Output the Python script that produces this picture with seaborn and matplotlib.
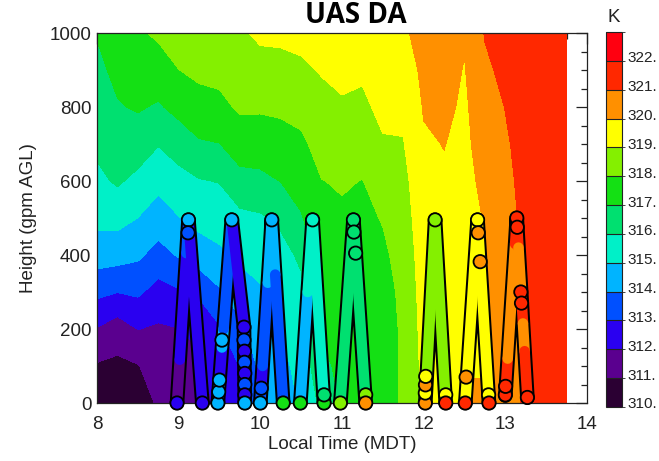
import numpy as np
import pandas as pd
import matplotlib
matplotlib.use("Agg")
import matplotlib.pyplot as plt
import seaborn as sns
from matplotlib.colors import ListedColormap, BoundaryNorm
from matplotlib.ticker import MultipleLocator
from matplotlib.cm import ScalarMappable

# ---------------- data ----------------
times = [8.0, 8.25, 8.5, 8.75, 9.0, 9.25, 9.5, 9.75, 10.0, 10.25, 10.5, 10.75,
         11.0, 11.25, 11.5, 11.75, 12.0, 12.25, 12.5, 12.75, 13.0, 13.25, 13.5, 13.75]
heights = [0, 100, 200, 300, 400, 500, 600, 700, 800, 900, 1000]

# potential temperature (K) per time column, heights 0..1000 m
theta_columns = [
    [310.0, 310.4, 311.44, 312.74, 313.96, 314.78, 315.29, 315.68, 315.97, 316.26, 316.56],
    [310.0, 310.3, 310.98, 312.52, 313.89, 314.83, 315.62, 316.02, 316.42, 316.74, 317.05],
    [310.1, 310.45, 311.52, 312.66, 313.67, 314.49, 315.26, 315.98, 316.6, 316.99, 317.38],
    [310.6, 311.0, 311.37, 312.13, 313.13, 314.03, 314.78, 315.55, 316.39, 317.06, 317.65],
    [310.8, 311.16, 311.48, 312.4, 313.59, 314.46, 315.16, 315.95, 316.79, 317.49, 317.9],
    [311.0, 311.3, 311.75, 312.67, 314.0, 314.81, 315.44, 316.38, 317.19, 317.68, 318.0],
    [311.8, 312.1, 312.38, 313.38, 314.32, 314.95, 315.54, 316.48, 317.27, 317.76, 318.15],
    [312.2, 312.52, 313.27, 314.0, 314.68, 315.26, 316.17, 317.0, 317.63, 318.0, 318.39],
    [313.4, 313.73, 314.07, 314.4, 314.85, 315.38, 316.27, 316.98, 317.62, 318.21, 318.65],
    [313.9, 314.2, 314.52, 314.86, 315.21, 315.67, 316.52, 317.1, 317.68, 318.2, 318.7],
    [314.62, 314.85, 315.08, 315.31, 315.65, 316.42, 316.88, 317.33, 317.79, 318.32, 318.8],
    [315.75, 316.25, 316.61, 316.83, 317.04, 317.26, 317.48, 317.83, 318.2, 318.57, 318.9],
    [316.6, 316.75, 316.9, 317.05, 317.2, 317.38, 317.58, 317.98, 318.38, 318.75, 319.1],
    [316.9, 316.95, 317.0, 317.05, 317.15, 317.3, 317.48, 317.85, 318.3, 318.65, 319.0],
    [317.2, 317.2, 317.2, 317.25, 317.35, 317.55, 317.9, 318.4, 318.75, 319.0, 319.25],
    [317.6, 317.6, 317.6, 317.65, 317.8, 318.0, 318.2, 318.45, 318.7, 319.0, 319.35],
    [318.7, 318.75, 318.85, 318.95, 319.05, 319.15, 319.25, 319.4, 319.56, 319.7, 319.85],
    [319.0, 319.05, 319.1, 319.15, 319.2, 319.3, 319.4, 319.52, 319.7, 319.85, 320.0],
    [319.6, 319.45, 319.3, 319.2, 319.2, 319.2, 319.25, 319.3, 319.35, 319.45, 319.6],
    [319.6, 319.45, 319.35, 319.35, 319.45, 319.55, 319.7, 319.9, 320.1, 320.35, 320.55],
    [320.2, 320.15, 320.1, 320.1, 320.15, 320.2, 320.3, 320.4, 320.52, 320.7, 320.85],
    [320.6, 320.6, 320.6, 320.6, 320.65, 320.7, 320.75, 320.8, 320.85, 320.9, 320.95],
    [320.85, 320.85, 320.85, 320.85, 320.9, 320.9, 320.95, 320.95, 321.0, 321.0, 321.05],
    [320.95, 320.95, 321.0, 321.0, 321.0, 321.0, 321.05, 321.05, 321.1, 321.1, 321.1],
]

# UAS flight tracks: vertices (time, height) and theta of the segment starting at each vertex
f1_time = [8.98, 9.013, 9.095, 9.12, 9.29]
f1_height = [0, 117, 405, 495, 0]
f1_theta = [311, 312, 313, 312]

f2_time = [9.48, 9.50, 9.53, 9.55, 9.65, 9.80, 9.81]
f2_height = [0, 60, 150, 200, 495, 205, 0]
f2_theta = [314, 312, 314, 313, 312, 313]

f3_time = [10.0, 10.017, 10.028, 10.092, 10.14, 10.182, 10.28]
f3_height = [0, 60, 100, 325, 495, 347, 0]
f3_theta = [313, 312, 313, 314, 314, 313]

f4_time = [10.49, 10.58, 10.64, 10.78]
f4_height = [0, 300, 495, 0]
f4_theta = [314, 315, 315]

f5_time = [10.98, 11.14, 11.29]
f5_height = [0, 495, 0]
f5_theta = [316, 316]

f6_time = [12.02, 12.14, 12.27]
f6_height = [0, 495, 0]
f6_theta = [318, 318]

f7_time = [12.51, 12.66, 12.80]
f7_height = [0, 495, 0]
f7_theta = [319, 319]

f8_time = [13.0, 13.029, 13.12, 13.14, 13.161, 13.194, 13.216, 13.236, 13.27]
f8_height = [20, 120, 430, 500, 420, 300, 215, 140, 15]
f8_theta = [321, 320, 321, 321, 320, 321, 320, 321]

# individual observation circles
mk_time = [8.98, 9.29, 9.12, 9.115,
           9.48, 9.49, 9.50, 9.53, 9.65, 9.80, 9.80, 9.805, 9.805, 9.81, 9.81, 9.81, 9.81,
           10.0, 10.012, 10.14, 10.28,
           10.49, 10.64, 10.78, 10.78,
           10.98, 11.14, 11.145, 11.167, 11.29, 11.29,
           12.02, 12.02, 12.022, 12.025, 12.14, 12.27, 12.27,
           12.51, 12.52, 12.66, 12.668, 12.692, 12.795, 12.80,
           13.0, 13.003, 13.14, 13.146, 13.19, 13.198, 13.27]
mk_height = [0, 0, 495, 460,
             0, 30, 62, 170, 495, 205, 170, 140, 110, 80, 50, 22, 0,
             0, 40, 495, 0,
             0, 495, 0, 22,
             0, 495, 462, 405, 22, 0,
             0, 27, 49, 72, 495, 22, 0,
             0, 70, 495, 460, 382, 22, 0,
             22, 45, 500, 475, 300, 270, 15]
mk_theta = [312, 312, 314, 313,
            314, 314, 314, 314, 314, 312, 313, 312, 313, 312, 313, 312, 314,
            314, 313, 314, 317,
            317, 315, 317, 316,
            318, 316, 316, 316, 318, 320,
            320, 319, 320, 319, 318, 319, 321,
            321, 320, 319, 320, 320, 319, 321,
            321, 321, 321, 321, 321, 321, 321]

level_values = list(range(310, 323))
level_colors = ['#2b0033', '#5a008f', '#2a00f0', '#0050ff', '#00b4ff', '#00f0c8',
                '#00e070', '#14e014', '#84f000', '#ffff00', '#ff9000', '#ff2800', '#ff0010']
level_labels = [f"{v}." for v in level_values]

# ---------------- style ----------------
sns.set_style("white")
plt.rcParams['font.family'] = ['Liberation Sans', 'DejaVu Sans']

W, H = 659, 461
fig = plt.figure(figsize=(W / 100, H / 100), dpi=100)
ax = fig.add_axes([97 / W, 1 - 403 / H, 490 / W, 370 / H])

bounds = np.arange(309.5, 323.0, 1.0)
cmap = ListedColormap(level_colors)
norm = BoundaryNorm(bounds, cmap.N)
color_of = dict(zip(level_values, level_colors))

Z = np.array(theta_columns).T
ax.contourf(times, heights, Z, levels=bounds, colors=level_colors, zorder=1)

flights = [(f1_time, f1_height, f1_theta), (f2_time, f2_height, f2_theta),
           (f3_time, f3_height, f3_theta), (f4_time, f4_height, f4_theta),
           (f5_time, f5_height, f5_theta), (f6_time, f6_height, f6_theta),
           (f7_time, f7_height, f7_theta), (f8_time, f8_height, f8_theta)]
for ft, fh, fth in flights:
    ax.plot(ft, fh, color='black', lw=10.5, solid_capstyle='round',
            solid_joinstyle='round', zorder=3, clip_on=False)
    for i in range(len(ft) - 1):
        ax.plot(ft[i:i + 2], fh[i:i + 2], color=color_of[fth[i]], lw=7.6,
                solid_capstyle='round', zorder=4, clip_on=False)

mk = pd.DataFrame({'t': mk_time, 'h': mk_height, 'theta': mk_theta})
sns.scatterplot(data=mk, x='t', y='h', hue='theta', palette=color_of, s=92,
                edgecolor='black', linewidth=1.3, legend=False, ax=ax, zorder=5)
for coll in ax.collections[-1:]:
    coll.set_clip_on(False)

ax.set_xlim(8, 14)
ax.set_ylim(0, 1000)
ax.xaxis.set_major_locator(MultipleLocator(1))
ax.xaxis.set_minor_locator(MultipleLocator(0.25))
ax.yaxis.set_major_locator(MultipleLocator(200))
ax.yaxis.set_minor_locator(MultipleLocator(50))
ax.tick_params(which='both', direction='in', top=True, right=True, color='#222222', width=0.9)
ax.tick_params(which='major', length=8, labelsize=13.5, colors='#222222')
ax.tick_params(which='minor', length=4)
ax.tick_params(axis='x', which='major', pad=9)
ax.tick_params(axis='y', which='major', pad=4)
for sp in ax.spines.values():
    sp.set_color('#222222')
    sp.set_linewidth(0.9)

ax.set_xlabel('Local Time (MDT)', fontsize=13.5, color='#222222')
ax.set_ylabel('Height (gpm AGL)', fontsize=13.5, color='#222222')
ax.xaxis.set_label_coords(0.5, (403 - 436) / 370)
ax.yaxis.set_label_coords((37 - 97) / 490, 0.5)

fig.text(356 / W, 1 - 23 / H, 'UAS DA', ha='center', va='baseline', fontsize=20,
         fontweight='bold', family=['Open Sans', 'DejaVu Sans'], color='black')

# colorbar
cax = fig.add_axes([606 / W, 1 - 407 / H, 16 / W, 375 / H])
sm = ScalarMappable(norm=norm, cmap=cmap)
cb = fig.colorbar(sm, cax=cax, boundaries=bounds, drawedges=True)
cb.set_ticks([v - 0.36 for v in level_values])
cb.set_ticklabels(level_labels)
cb.ax.tick_params(length=0, pad=4, labelsize=11, colors='#222222')
cb.outline.set_edgecolor('#222222')
cb.outline.set_linewidth(0.8)
cb.dividers.set_color('#222222')
cb.dividers.set_linewidth(0.8)
fig.text(614 / W, 1 - 18 / H, 'K', ha='center', va='center', fontsize=13.5, color='#222222')

fig.savefig('out.png', dpi=100)
